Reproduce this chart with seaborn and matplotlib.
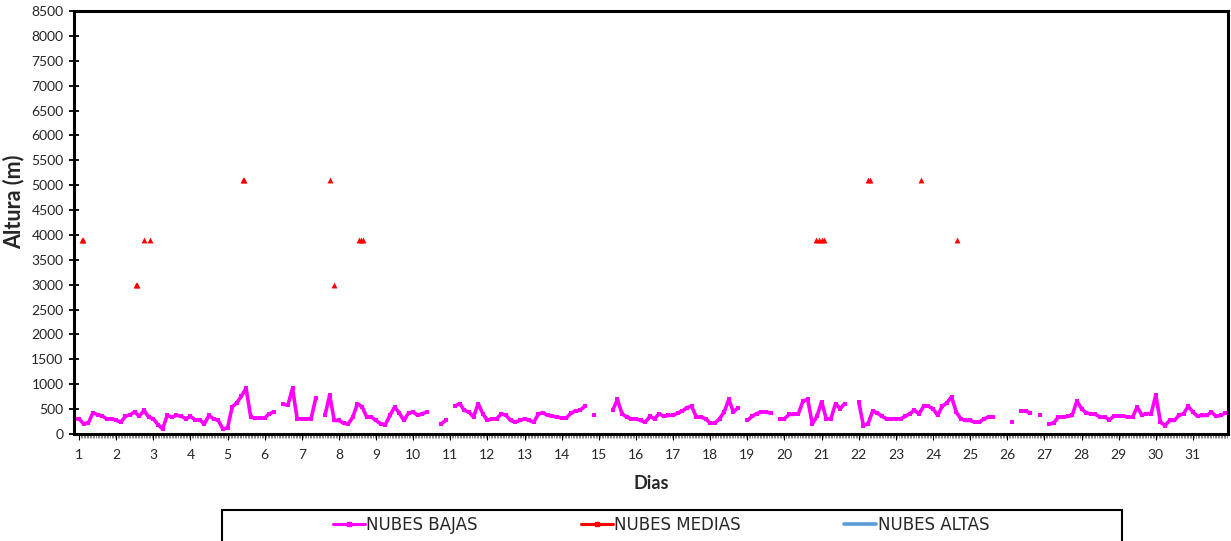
import numpy as np
import pandas as pd
import matplotlib
matplotlib.use("Agg")
import matplotlib.pyplot as plt
import seaborn as sns
from matplotlib.lines import Line2D
from matplotlib.patches import Rectangle

nan = np.nan

# NUBES BAJAS (m), one reading every 3 h, first value at day 0.875
bajas = [
    306,
    306, 204, 218, 428, 388, 360, 306, 306,   # dia 1
    272, 238, 354, 388, 442, 354, 476, 340,   # dia 2
    306, 190, 102, 374, 340, 374, 360, 306,   # dia 3
    354, 286, 286, 204, 374, 306, 272, 102,   # dia 4
    122, 544, 626, 762, 918, 340, 320, 320,   # dia 5
    320, 408, 442, nan, 598, 578, 918, 306,   # dia 6
    306, 306, 306, 714, nan, 374, 782, 272,   # dia 7
    272, 218, 204, 340, 612, 544, 340, 340,   # dia 8
    272, 204, 190, 374, 544, 422, 272, 422,   # dia 9
    442, 374, 408, 442, nan, nan, 204, 272,   # dia 10
    nan, 560, 612, 476, 442, 340, 612, 408,   # dia 11
    272, 306, 306, 408, 374, 272, 238, 272,   # dia 12
    306, 272, 238, 408, 422, 374, 360, 340,   # dia 13
    320, 320, 422, 462, 480, 558, nan, 374,   # dia 14
    nan, nan, nan, 476, 694, 408, 340, 306,   # dia 15
    306, 272, 238, 354, 306, 408, 354, 374,   # dia 16
    374, 422, 462, 530, 558, 340, 340, 306,   # dia 17
    218, 218, 306, 442, 694, 442, 530, nan,   # dia 18
    272, 354, 408, 442, 442, 422, nan, 306,   # dia 19
    306, 394, 394, 408, 666, 694, 204, 354,   # dia 20
    650, 306, 306, 612, 510, 612, nan, nan,   # dia 21
    646, 170, 204, 462, 422, 354, 306, 306,   # dia 22
    306, 306, 354, 408, 476, 408, 558, 558,   # dia 23
    510, 374, 558, 626, 748, 442, 306, 272,   # dia 24
    272, 238, 238, 306, 340, 340, nan, nan,   # dia 25
    nan, 238, nan, 462, 462, 422, nan, 374,   # dia 26
    nan, 204, 218, 340, 340, 354, 374, 666,   # dia 27
    510, 422, 408, 394, 340, 340, 286, 360,   # dia 28
    360, 360, 340, 340, 544, 380, 408, 408,   # dia 29
    782, 238, 170, 272, 272, 374, 408, 558,   # dia 30
    442, 354, 374, 374, 442, 354, 374, 422,   # dia 31
]

# NUBES MEDIAS (isolated readings)
medias_dia = [1.07, 1.11, 2.53, 2.57, 2.76, 2.90, 5.41, 5.45, 7.76, 7.87,
              8.55, 8.60, 8.64, 20.86, 20.93, 21.00, 21.06, 22.26, 22.30,
              23.69, 24.65]
medias_alt = [3900, 3900, 3000, 3000, 3900, 3900, 5100, 5100, 5100, 3000,
              3900, 3900, 3900, 3900, 3900, 3900, 3900, 5100, 5100,
              5100, 3900]

# NUBES ALTAS: no readings this month
altas_dia = []
altas_alt = []

dias_ticks = list(range(1, 32))
alt_ticks = list(range(0, 8501, 500))

sns.set_theme(style="white")
plt.rcParams['font.family'] = ['Lato', 'DejaVu Sans']

W, H = 1231, 541
fig = plt.figure(figsize=(W / 100, H / 100), dpi=100)
ax = fig.add_axes([74 / W, 1 - 434 / H, (1228 - 74) / W, (434 - 11) / H])

dias = 0.875 + 0.125 * np.arange(len(bajas))
df = pd.DataFrame({"dia": dias, "altura": bajas})
df["tramo"] = df["altura"].isna().cumsum()
df = df.dropna()

sns.lineplot(data=df, x="dia", y="altura", units="tramo", estimator=None,
             color="#FF00FF", linewidth=2.6, marker="s", markersize=3.2,
             markeredgewidth=0, ax=ax, legend=False)
sns.scatterplot(x=medias_dia, y=medias_alt, marker="^", color="#FF0000",
                s=18, linewidth=0, ax=ax, legend=False)
ax.plot(altas_dia, altas_alt, color="#5B9BD5")

ax.set_xlim(0.865, 31.945)
ax.set_ylim(0, 8500)
ax.set_xticks(dias_ticks)
ax.set_xticks(np.arange(1, 31.95, 1 / 24), minor=True)
ax.set_yticks(alt_ticks)
ax.tick_params(axis="y", which="major", direction="inout", length=7,
               width=1.3, color="black", labelsize=10, pad=4)
ax.tick_params(axis="x", which="major", direction="out", length=4,
               width=0.8, color="black", labelsize=10, pad=7)
ax.tick_params(axis="x", which="minor", direction="out", length=3,
               width=0.5, color="#555555")
ax.tick_params(left=True, bottom=True)
ax.tick_params(axis="x", which="minor", bottom=True)

for side in ["left", "bottom", "right", "top"]:
    ax.spines[side].set_color("black")
    ax.spines[side].set_linewidth(2.2)

ax.set_xlabel("Dias", fontsize=13, fontweight="bold", labelpad=10)
ax.set_ylabel("Altura (m)", fontsize=15.5, fontweight="bold")
ax.yaxis.set_label_coords(-0.043, 0.55)

handles = [
    Line2D([], [], color="#FF00FF", lw=2.2, marker="s", markersize=3),
    Line2D([], [], color="#FF0000", lw=2.2, marker="s", markersize=3),
    Line2D([], [], color="#5B9BD5", lw=2.6),
]
labels = ["NUBES BAJAS", "NUBES MEDIAS", "NUBES ALTAS"]
fig.legend(handles, labels, loc="center", bbox_to_anchor=(661 / W, 1 - 525 / H),
           ncol=3, frameon=False, columnspacing=6.2, handlelength=1.9,
           handletextpad=0.1,
           prop={"family": ["Liberation Sans Narrow", "DejaVu Sans"], "size": 12})
fig.patches.append(Rectangle((222 / W, -0.03), 900 / W, 1 - 510 / H + 0.03,
                             transform=fig.transFigure, fill=False,
                             edgecolor="black", linewidth=1.5))

fig.savefig("out.png", dpi=100)
